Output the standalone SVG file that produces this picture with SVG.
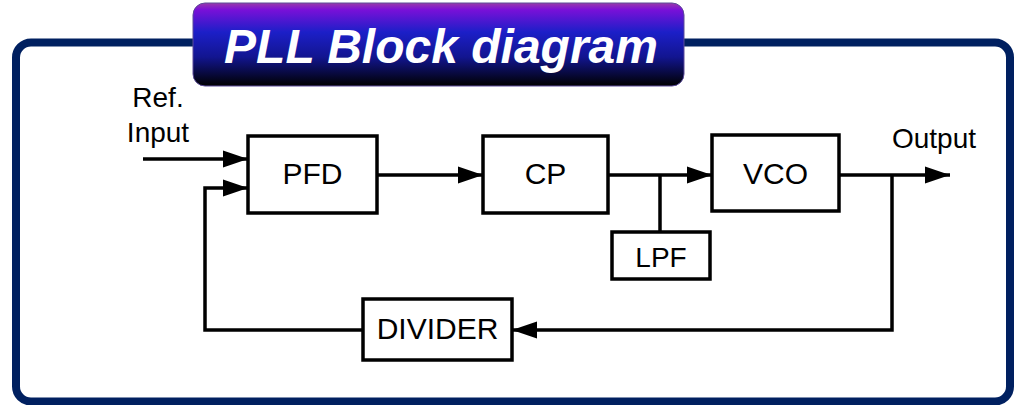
<svg xmlns="http://www.w3.org/2000/svg" width="1014" height="405" viewBox="0 0 1014 405">
<defs>
<linearGradient id="tg" x1="0" y1="0" x2="0" y2="1">
<stop offset="0" stop-color="#9a3aa8"/>
<stop offset="0.08" stop-color="#7a10d8"/>
<stop offset="0.35" stop-color="#1c1fc8"/>
<stop offset="0.65" stop-color="#121590"/>
<stop offset="1" stop-color="#000000"/>
</linearGradient>
<marker id="arr" markerUnits="userSpaceOnUse" markerWidth="26" markerHeight="18" refX="25" refY="9" orient="auto">
<path d="M0,0.5 L25,9 L0,17.5 z" fill="#000"/>
</marker>
<style>
.frame{fill:#fff;stroke:#002060;stroke-width:8}
.box{fill:#fff;stroke:#000;stroke-width:3.5}
.lbl{font-family:"Liberation Sans",Arial,sans-serif;font-size:30px;fill:#000;text-anchor:middle}
.ln{fill:none;stroke:#000;stroke-width:3.5}
.title{font-family:"Liberation Sans",Arial,sans-serif;font-size:48px;font-weight:bold;font-style:italic;fill:#fff;text-anchor:middle}
</style>
</defs>
<rect class="frame" x="16" y="42.5" width="994" height="359" rx="15"/>
<g id="title">
<rect x="193" y="3" width="491" height="83" rx="12" fill="url(#tg)" stroke="#5a4a9a" stroke-width="1"/>
<text class="title" x="441" y="63">PLL Block diagram</text>
</g>
<g id="connectors">
<line class="ln" x1="143" y1="159" x2="248" y2="159" marker-end="url(#arr)"/>
<line class="ln" x1="377" y1="175" x2="483" y2="175" marker-end="url(#arr)"/>
<line class="ln" x1="608" y1="175" x2="712" y2="175" marker-end="url(#arr)"/>
<line class="ln" x1="660" y1="175" x2="660" y2="232"/>
<line class="ln" x1="839" y1="175" x2="950" y2="175" marker-end="url(#arr)"/>
<polyline class="ln" points="892,175 892,330 512,330" marker-end="url(#arr)"/>
<polyline class="ln" points="363,330 205,330 205,188 248,188" marker-end="url(#arr)"/>
</g>
<g id="ref-input">
<text class="lbl" x="158" y="107" style="font-size:28px">Ref.</text>
<text class="lbl" x="158" y="142" style="font-size:28px">Input</text>
</g>
<g id="output">
<text class="lbl" x="934" y="148" style="font-size:28px">Output</text>
</g>
<g id="pfd">
<rect class="box" x="248" y="136" width="129" height="77"/>
<text class="lbl" x="312.5" y="184">PFD</text>
</g>
<g id="cp">
<rect class="box" x="483" y="136" width="125" height="77"/>
<text class="lbl" x="545.5" y="184">CP</text>
</g>
<g id="vco">
<rect class="box" x="712" y="135" width="127" height="76"/>
<text class="lbl" x="775.5" y="184">VCO</text>
</g>
<g id="lpf">
<rect class="box" x="612" y="232" width="98" height="47"/>
<text class="lbl" x="661" y="267" style="font-size:28px">LPF</text>
</g>
<g id="divider">
<rect class="box" x="363" y="299" width="149" height="61"/>
<text class="lbl" x="437.5" y="339">DIVIDER</text>
</g>
</svg>
